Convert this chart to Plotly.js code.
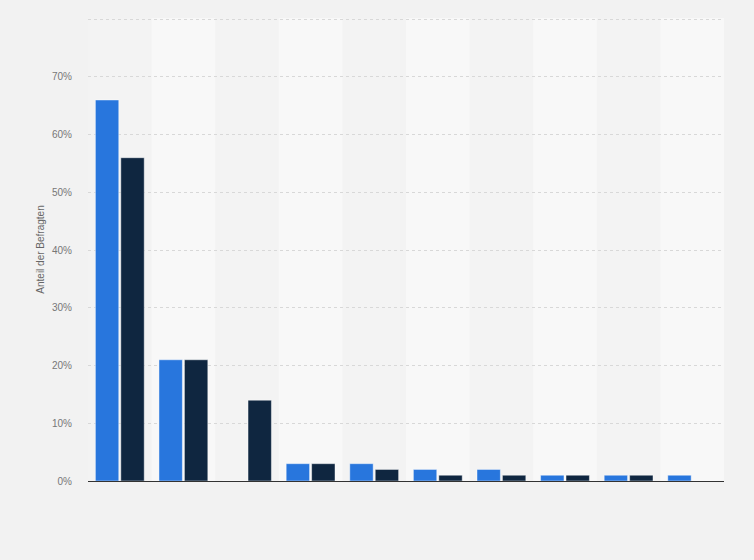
<!DOCTYPE html>
<html>
<head>
<meta charset="utf-8">
<script src="https://cdn.plot.ly/plotly-3.0.1.min.js"></script>
<style>
  html, body { margin: 0; padding: 0; background: #f2f2f2; }
  #chart { width: 754px; height: 560px; }
</style>
</head>
<body>
<div id="chart"></div>
<script>
// categories (no labels shown in the original)
var categories = ["A", "B", "C", "D", "E", "F", "G", "H", "I", "J"];
var seriesA = [66, 21, 0, 3, 3, 2, 2, 1, 1, 1];
var seriesB = [56, 21, 14, 3, 2, 1, 1, 1, 1, 0];
var tickValues = [0, 10, 20, 30, 40, 50, 60, 70, 80];
var tickLabels = ["0%", "10%", "20%", "30%", "40%", "50%", "60%", "70%", ""];

var traceA = {
  x: categories,
  y: seriesA,
  type: "bar",
  name: "Serie 1",
  marker: { color: "#2876dd", line: { color: "rgba(255,255,255,0.45)", width: 1 } },
  hoverinfo: "y"
};

var traceB = {
  x: categories,
  y: seriesB,
  type: "bar",
  name: "Serie 2",
  marker: { color: "#0f2640", line: { color: "rgba(255,255,255,0.45)", width: 1 } },
  hoverinfo: "y"
};

// alternating column bands
var bands = [];
for (var i = 1; i < categories.length; i += 2) {
  bands.push({
    type: "rect", xref: "x", yref: "paper",
    x0: i - 0.5, x1: i + 0.5, y0: 0, y1: 1,
    fillcolor: "#f8f8f8", line: { width: 0 }, layer: "below"
  });
}

var layout = {
  width: 754,
  height: 560,
  margin: { l: 88, r: 30, t: 18, b: 79 },
  paper_bgcolor: "#f2f2f2",
  plot_bgcolor: "#f3f3f3",
  showlegend: false,
  barmode: "group",
  bargap: 0.2,
  bargroupgap: 0.08,
  font: { family: "Arial, Liberation Sans, sans-serif", color: "#666" },
  shapes: bands,
  xaxis: {
    showticklabels: false,
    showgrid: false,
    zeroline: false,
    showline: true,
    linecolor: "#333",
    linewidth: 1,
    ticks: ""
  },
  yaxis: {
    range: [0, 80.2],
    tickvals: tickValues,
    ticktext: tickLabels,
    tickfont: { size: 10, color: "#777" },
    showgrid: true,
    gridcolor: "#d8d8d8",
    griddash: "dot",
    gridwidth: 1,
    zeroline: false,
    ticks: "",
    ticklabelstandoff: 15,
    title: { text: "Anteil der Befragten", font: { size: 10, color: "#666" }, standoff: 5 }
  }
};

Plotly.newPlot("chart", [traceA, traceB], layout, { displayModeBar: false, staticPlot: true });
</script>
</body>
</html>
